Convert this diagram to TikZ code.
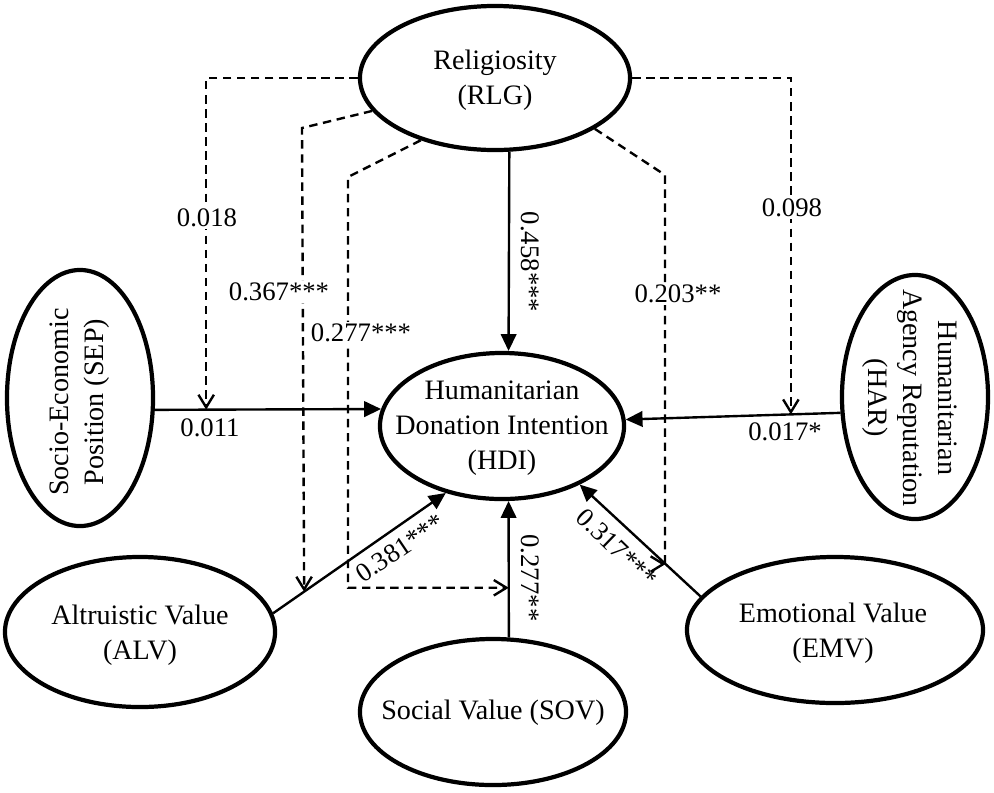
\documentclass[tikz,border=0pt]{standalone}
\usepackage{fontspec}
\setmainfont{Liberation Serif}
\usetikzlibrary{arrows.meta,shapes.geometric}
\begin{document}
\begin{tikzpicture}[x=0.025cm,y=-0.025cm,
  construct/.style={ellipse,draw,line width=3pt,inner sep=0pt},
  ctext/.style={align=center,inner sep=0pt,font=\fontsize{20}{25}\selectfont},
  solidpath/.style={line width=1.7pt,-{Triangle[length=12pt,width=11pt]}},
  dashpath/.style={line width=1.7pt,dash pattern=on 6pt off 4pt,-{Straight Barb[length=9pt,width=11pt]}},
  coef/.style={fill=white,inner sep=1.5pt,font=\fontsize{19}{22}\selectfont},
  rcoef/.style={inner sep=1pt,font=\fontsize{19}{22}\selectfont}]
\useasboundingbox (0,0) rectangle (994,792);

% constructs
\node[construct,minimum width=6.75cm,minimum height=3.6cm] (rlg) at (495,78) {};
\node[ctext] (rlgt) at (495,80) {Religiosity\\(RLG)};
\node[construct,minimum width=6.1cm,minimum height=3.65cm] (hdi) at (502,426) {};
\node[ctext] (hdit) at (502,428) {Humanitarian\\Donation Intention\\(HDI)};
\node[construct,minimum width=3.65cm,minimum height=6.4cm] (sep) at (80,398) {};
\node[ctext,rotate=90] (sept) at (80,402) {Socio-Economic\\Position (SEP)};
\node[construct,minimum width=3.65cm,minimum height=6.1cm] (har) at (915,397) {};
\node[ctext,rotate=-90] (hart) at (910,398) {Humanitarian\\Agency Reputation\\(HAR)};
\node[construct,minimum width=6.75cm,minimum height=3.75cm] (alv) at (140,632) {};
\node[ctext] (alvt) at (140,635) {Altruistic Value\\(ALV)};
\node[construct,minimum width=6.65cm,minimum height=3.65cm] (sov) at (493,712) {};
\node[ctext] (sovt) at (493,713) {Social Value (SOV)};
\node[construct,minimum width=7.4cm,minimum height=3.65cm] (emv) at (835,630) {};
\node[ctext] (emvt) at (833,633) {Emotional Value\\(EMV)};

% direct paths
\draw[solidpath] (rlg.-79) -- (hdi.85);
\draw[solidpath] (sep.-9.5) -- coordinate[pos=0.227] (c1) (hdi.172.5);
\draw[solidpath] (har.192.4) -- coordinate[pos=0.231] (c5) (hdi.3.75);
\draw[solidpath] (alv.8.6) -- coordinate[pos=0.18] (c2) (hdi.230.7);
\draw[solidpath] (sov.78.4) -- coordinate[pos=0.364] (c3) (hdi.-85.3);
\draw[solidpath] (emv.166.9) -- coordinate[pos=0.29] (c4) (hdi.-37.4);

% moderation paths
\coordinate (b2) at (302,128);
\coordinate (b3) at (348,177);
\coordinate (b4) at (665,175);
\draw[dashpath] (rlg.west) -| (c1);
\draw[dashpath] (rlg.195) -- (b2) -- (c2);
\draw[dashpath] (rlg.220) -- (b3) |- (c3);
\draw[dashpath] (rlg.-27) -- (b4) |- (c4);
\draw[dashpath] (rlg.east) -| (c5);

% coefficients
\node[coef] (l018) at (207,218) {0.018};
\node[coef] (l367) at (279,292) {0.367***};
\node[coef] (l277a) at (361,333) {0.277***};
\node[coef] (l011) at (210,428) {0.011};
\node[rcoef,rotate=-90] (l458) at (530,262) {0.458***};
\node[coef] (l203) at (678,294) {0.203**};
\node[coef] (l098) at (792,208) {0.098};
\node[coef] (l017) at (785,432) {0.017*};
\node[rcoef,rotate=34] (l381) at (400,548) {0.381***};
\node[rcoef,rotate=-90] (l277b) at (530,578) {0.277**};
\node[rcoef,rotate=-44] (l317) at (617,548) {0.317***};
\end{tikzpicture}
\end{document}
